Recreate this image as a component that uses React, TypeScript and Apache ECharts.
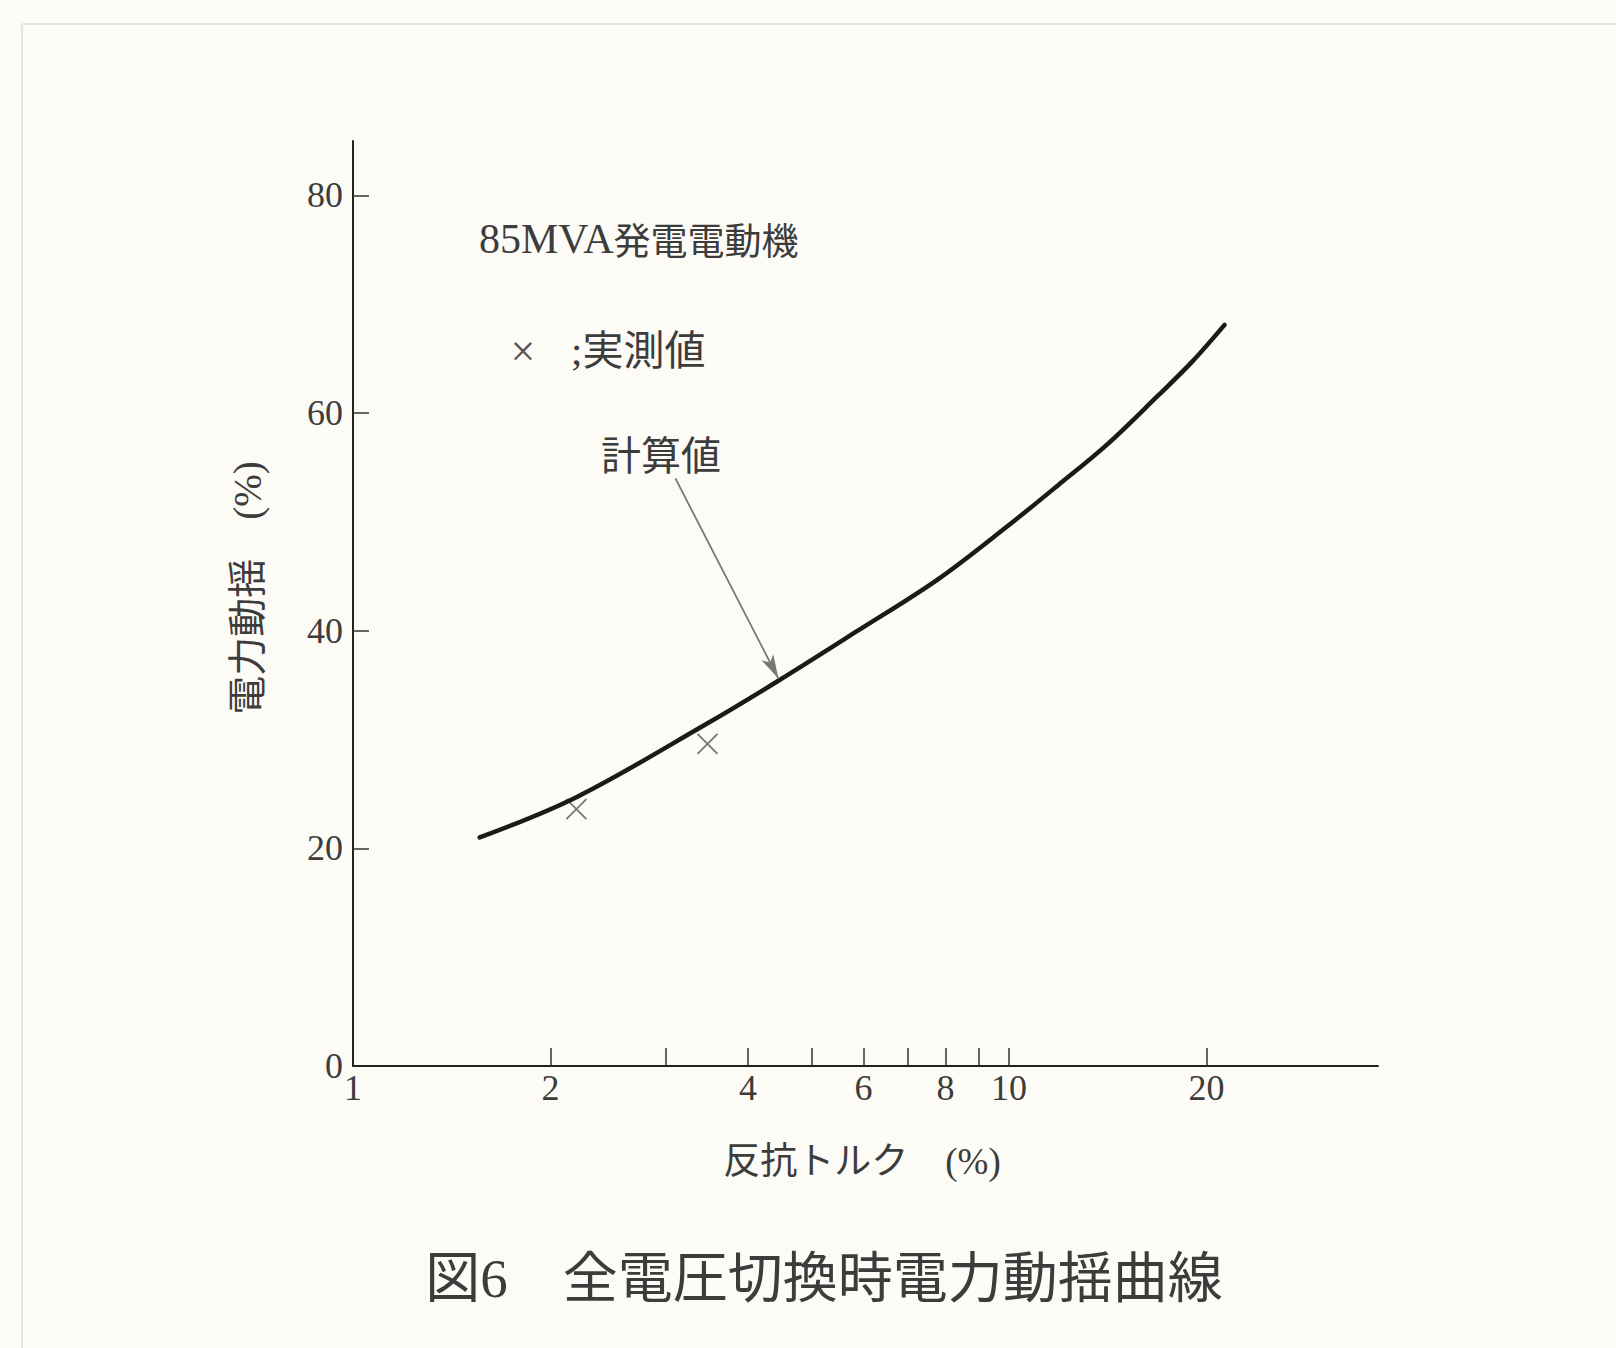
import React, { useEffect, useRef } from "react";
import * as echarts from "echarts";

// ---- data ----
const xTickValues = [2, 3, 4, 5, 6, 7, 8, 9, 10, 20];
const xLabelValues = [1, 2, 4, 6, 8, 10, 20];
const yTickValues = [20, 40, 60, 80];
const yLabelValues = [0, 20, 40, 60, 80];

// 計算値 (calculated curve)
const calcX = [1.56, 2.19, 3.45, 4.45, 5.88, 7.78, 9.94, 11.84, 14.1, 16.8, 19.0, 21.3];
const calcY = [21.0, 24.7, 31.4, 35.4, 40.0, 44.7, 49.6, 53.3, 57.1, 61.5, 64.7, 68.1];

// 実測値 (measured points)
const measX = [2.19, 3.47];
const measY = [23.6, 29.6];

// annotation arrow (from label to curve)
const arrowFrom = [3.1, 54.0];
const arrowTo = [4.45, 35.6];

const SERIF = "'Liberation Serif', 'Noto Sans CJK JP', serif";
const TEXT_COLOR = "#3c3c3c";

export default function App() {
  const ref = useRef<HTMLDivElement>(null);

  useEffect(() => {
    if (!ref.current) return;
    const chart = echarts.init(ref.current, undefined, { renderer: "svg" });

    const option: any = {
      animation: false,
      backgroundColor: "#fcfbf6",
      grid: { left: 353, top: 141, right: 238, bottom: 282, containLabel: false },
      xAxis: {
        type: "log",
        logBase: 10,
        min: 1,
        max: 36.5,
        axisLine: { show: true, lineStyle: { color: "#222", width: 2 } },
        axisTick: {
          show: true,
          inside: true,
          length: 18,
          customValues: xTickValues,
          lineStyle: { color: "#333", width: 1.5 },
        },
        minorTick: { show: false },
        axisLabel: {
          customValues: xLabelValues,
          margin: 4,
          fontSize: 36,
          fontFamily: SERIF,
          color: TEXT_COLOR,
          showMinLabel: true,
          showMaxLabel: true,
          hideOverlap: false,
        },
        splitLine: { show: false },
      },
      yAxis: {
        type: "value",
        min: 0,
        max: 85,
        axisLine: { show: true, lineStyle: { color: "#222", width: 2 } },
        axisTick: {
          show: true,
          inside: true,
          length: 16,
          customValues: yTickValues,
          lineStyle: { color: "#333", width: 1.5 },
        },
        axisLabel: {
          customValues: yLabelValues,
          margin: 10,
          fontSize: 36,
          fontFamily: SERIF,
          color: TEXT_COLOR,
        },
        splitLine: { show: false },
      },
      series: [
        {
          name: "計算値",
          type: "line",
          data: calcX.map((x, i) => [x, calcY[i]]),
          smooth: 0.35,
          symbol: "none",
          lineStyle: { color: "#1a1a1a", width: 4.5, cap: "round" },
          silent: true,
          markLine: {
            silent: true,
            symbol: ["none", "arrow"],
            symbolSize: [10, 24],
            label: { show: false },
            lineStyle: { color: "#777", width: 1.8, type: "solid" },
            data: [[{ coord: arrowFrom }, { coord: arrowTo }]],
          },
        },
        {
          name: "実測値",
          type: "scatter",
          data: measX.map((x, i) => [x, measY[i]]),
          symbol: "path://M0,0L10,10M10,0L0,10",
          symbolSize: 20,
          itemStyle: { color: "rgba(0,0,0,0)", borderColor: "#555", borderWidth: 1.8 },
          silent: true,
        },
      ],
      graphic: [
        { type: "line", silent: true, shape: { x1: 22, y1: 24, x2: 1616, y2: 24 }, style: { stroke: "#e6e6df", lineWidth: 2 } },
        { type: "line", silent: true, shape: { x1: 22, y1: 24, x2: 22, y2: 1348 }, style: { stroke: "#e6e6df", lineWidth: 2 } },
        {
          type: "text",
          x: 479,
          y: 239,
          style: {
            text: "{a|85MVA}{b|発電電動機}",
            verticalAlign: "middle",
            align: "left",
            fill: TEXT_COLOR,
            rich: {
              a: { fontFamily: SERIF, fontSize: 42, fill: TEXT_COLOR },
              b: { fontFamily: "'Noto Sans CJK JP'", fontSize: 37, fill: TEXT_COLOR },
            },
          },
        },
        {
          type: "text",
          x: 523,
          y: 351,
          style: { text: "×", fontFamily: SERIF, fontSize: 44, fill: "#555", align: "center", verticalAlign: "middle" },
        },
        {
          type: "text",
          x: 571,
          y: 351,
          style: { text: ";実測値", fontFamily: SERIF, fontSize: 41, fill: TEXT_COLOR, align: "left", verticalAlign: "middle" },
        },
        {
          type: "text",
          x: 601,
          y: 456,
          style: { text: "計算値", fontFamily: SERIF, fontSize: 40, fill: TEXT_COLOR, align: "left", verticalAlign: "middle" },
        },
        {
          type: "text",
          x: 247,
          y: 588,
          rotation: Math.PI / 2,
          style: { text: "電力動揺　(%)", fontFamily: SERIF, fontSize: 39, fill: TEXT_COLOR, align: "center", verticalAlign: "middle" },
        },
        {
          type: "text",
          x: 862,
          y: 1161,
          style: { text: "反抗トルク　(%)", fontFamily: SERIF, fontSize: 37, fill: TEXT_COLOR, align: "center", verticalAlign: "middle" },
        },
        {
          type: "text",
          x: 824,
          y: 1278,
          style: { text: "図6　全電圧切換時電力動揺曲線", fontFamily: SERIF, fontSize: 55, fill: TEXT_COLOR, align: "center", verticalAlign: "middle" },
        },
      ],
    };

    chart.setOption(option);
    return () => chart.dispose();
  }, []);

  return (
    <div
      ref={ref}
      style={{ position: "absolute", left: 0, top: 0, width: 1616, height: 1348, background: "#fcfbf6" }}
    />
  );
}
